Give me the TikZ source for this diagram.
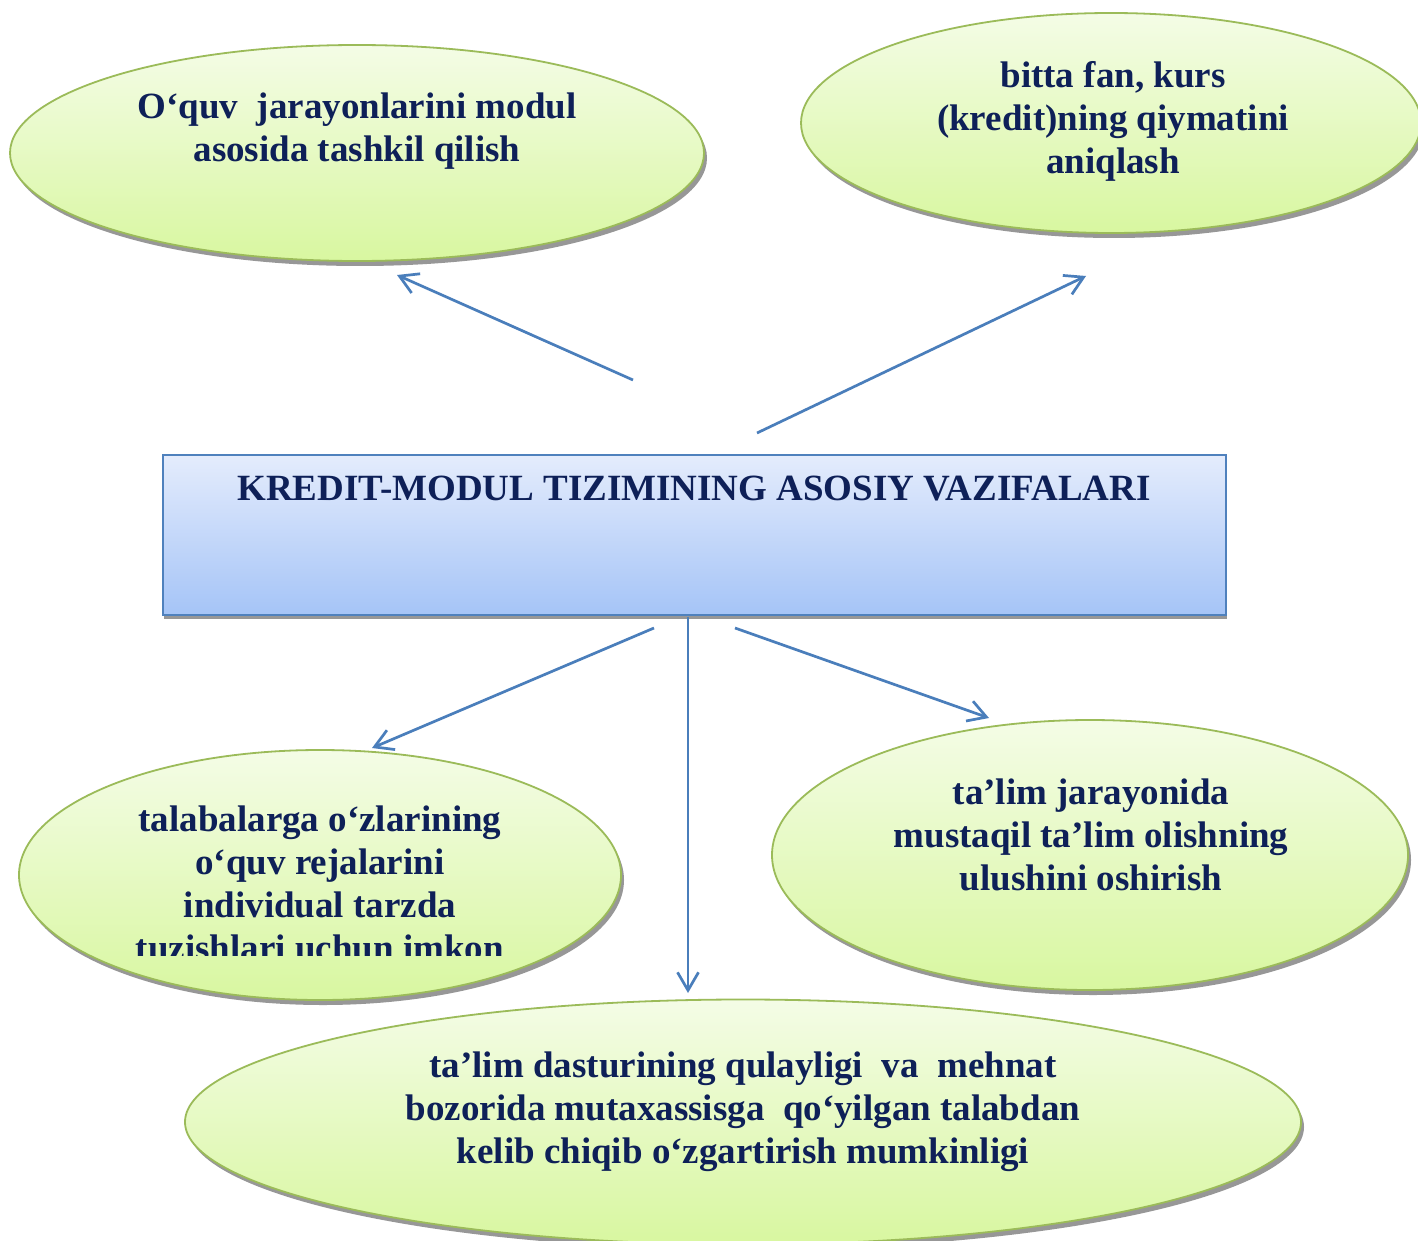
\documentclass[tikz,border=0pt]{standalone}
\usepackage{fontspec}
\setmainfont{Liberation Serif}
\usetikzlibrary{arrows.meta,shapes.geometric,shadows}
\definecolor{txt}{RGB}{14,32,88}
\definecolor{eltop}{RGB}{244,252,230}
\definecolor{elbot}{RGB}{216,247,160}
\definecolor{elbord}{RGB}{155,187,89}
\definecolor{bxtop}{RGB}{228,236,252}
\definecolor{bxbot}{RGB}{165,196,247}
\definecolor{bxbord}{RGB}{79,129,189}
\definecolor{arr}{RGB}{74,126,187}
\definecolor{shad}{RGB}{140,140,140}
\begin{document}
\begin{tikzpicture}[x=1pt,y=-1pt,
  bubble/.style={ellipse, draw=elbord, line width=1.8pt, top color=eltop, bottom color=elbot,
    inner sep=0pt, drop shadow={shadow xshift=3pt, shadow yshift=-5pt, fill=shad, opacity=0.9}},
  titlebox/.style={rectangle, draw=bxbord, line width=1.8pt, top color=bxtop, bottom color=bxbot,
    inner sep=0pt, drop shadow={shadow xshift=1pt, shadow yshift=-4pt, fill=shad, opacity=0.9}},
  lbl/.style={text=txt, font=\fontsize{37}{43}\selectfont\bfseries, align=center, inner sep=0pt},
  conn/.style={draw=arr, line width=2.7pt, -{Straight Barb[length=18pt,width=21pt]}},
]
\useasboundingbox[fill=white] (0,0) rectangle (1418,1241);

% shapes
\node[bubble, minimum width=694pt, minimum height=216pt] (e1) at (357,153) {};
\node[bubble, minimum width=620pt, minimum height=220pt] (e2) at (1111,123) {};
\node[titlebox, minimum width=1063pt, minimum height=160pt] (box) at (694.5,535) {};
\node[bubble, minimum width=602pt, minimum height=250pt] (e3) at (320,875) {};
\node[bubble, minimum width=636pt, minimum height=270pt] (e4) at (1090,855) {};
\node[bubble, minimum width=1116pt, minimum height=245pt] (e5) at (743,1122) {};

% texts
\node[lbl] (t1) at (357,131.5) {O‘quv~ jarayonlarini modul\\asosida tashkil qilish};
\node[lbl] (t2) at (1113,121) {bitta fan, kurs\\(kredit)ning qiymatini\\aniqlash};
\node[lbl] (tb) at (694,489) {KREDIT-MODUL TIZIMINING ASOSIY VAZIFALARI};
\begin{scope}
\clip (0,760) rectangle (640,955);
\node[lbl] (t3) at (320,883.5) {talabalarga o‘zlarining\\o‘quv rejalarini\\individual tarzda\\tuzishlari uchun imkon};
\end{scope}
\node[lbl] (t4) at (1091,834.5) {ta’lim jarayonida\\mustaqil ta’lim olishning\\ulushini oshirish};
\node[lbl] (t5) at (743,1112) {ta’lim dasturining qulayligi~ va~ mehnat\\bozorida mutaxassisga~ qo‘yilgan talabdan\\kelib chiqib o‘zgartirish mumkinligi};

% connector end points
\coordinate (a1s) at (633,380);
\coordinate (a1e) at (397,275);
\coordinate (a2s) at (757,433);
\coordinate (a2e) at (1086,276);
\coordinate (a3s) at (654,628);
\coordinate (a3e) at (372,748);
\coordinate (a4s) at (688,617);
\coordinate (a4e) at (688,993);
\coordinate (a5s) at (735,628);
\coordinate (a5e) at (989,718);

\draw[conn] (a1s) -- (a1e);
\draw[conn] (a2s) -- (a2e);
\draw[conn] (a3s) -- (a3e);
\draw[conn] (a4s) -- (a4e);
\draw[conn] (a5s) -- (a5e);
\end{tikzpicture}
\end{document}
